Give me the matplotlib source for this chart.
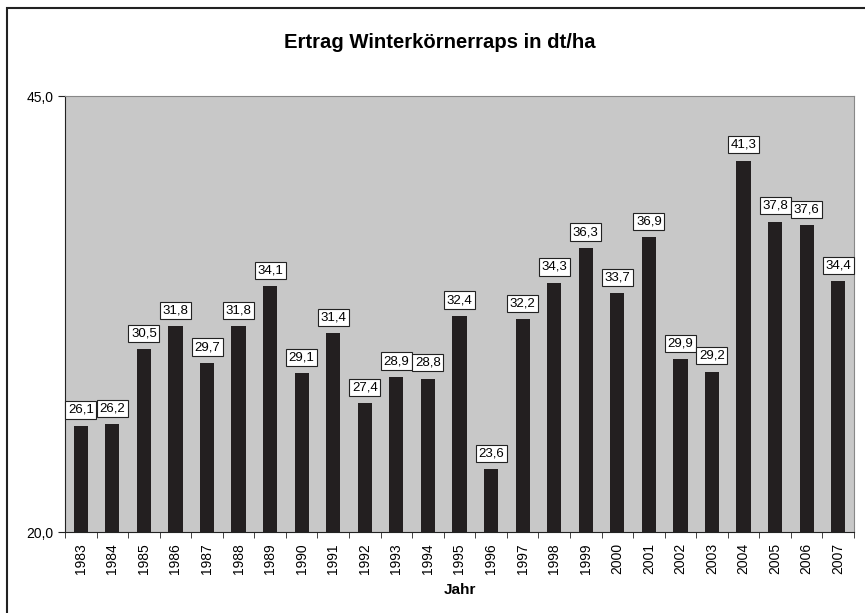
import matplotlib.pyplot as plt
from matplotlib.patches import Rectangle

plt.rcParams['font.family'] = ['Liberation Sans', 'DejaVu Sans']

years = [str(y) for y in range(1983, 2008)]
ertrag = [26.1, 26.2, 30.5, 31.8, 29.7, 31.8, 34.1, 29.1, 31.4, 27.4,
          28.9, 28.8, 32.4, 23.6, 32.2, 34.3, 36.3, 33.7, 36.9, 29.9,
          29.2, 41.3, 37.8, 37.6, 34.4]

fig = plt.figure(figsize=(8.65, 6.13), dpi=100)
# outer chart frame (runs off right/bottom edge like the original)
fig.patches.append(Rectangle((7/865, -0.05), 1.2, 1 - 8/613 + 0.05,
                             transform=fig.transFigure, fill=False,
                             edgecolor='#222222', linewidth=1.5))

ax = fig.add_axes([65/865, 1 - 532/613, 789/865, 436/613])
ax.set_facecolor('#c8c8c8')
x = range(len(years))
ax.bar(x, ertrag, width=0.45, color='#231f20', zorder=2)

for i, v in enumerate(ertrag):
    ax.annotate(('%.1f' % v).replace('.', ','), (i, v), xytext=(0, 7),
                textcoords='offset points', ha='center', va='bottom',
                fontsize=9.5,
                bbox=dict(boxstyle='square,pad=0.2', fc='white', ec='#222222', lw=0.8))

ax.set_xlim(-0.5, len(years) - 0.5)
ax.set_ylim(20, 45)
ax.set_yticks([20, 45])
ax.set_yticklabels(['20,0', '45,0'], fontsize=10)
ax.set_xticks(x)
ax.set_xticklabels(years, rotation=90, fontsize=10)
ax.set_xticks([i + 0.5 for i in range(-1, len(years))], minor=True)
ax.tick_params(axis='x', which='major', length=0, pad=8)
ax.tick_params(axis='x', which='minor', length=4, direction='out', color='#222222')
ax.tick_params(axis='y', length=5, direction='out', color='#222222')

for side in ['top', 'right']:
    ax.spines[side].set_color('#888888')
for side in ['left', 'bottom']:
    ax.spines[side].set_color('#222222')

ax.set_xlabel('Jahr', fontsize=11, fontweight='bold', labelpad=6)
fig.text(440/865, 1 - 42/613, 'Ertrag Winterkörnerraps in dt/ha',
         ha='center', va='center', fontsize=14.6, fontweight='bold')

plt.savefig('out.png', dpi=100)
